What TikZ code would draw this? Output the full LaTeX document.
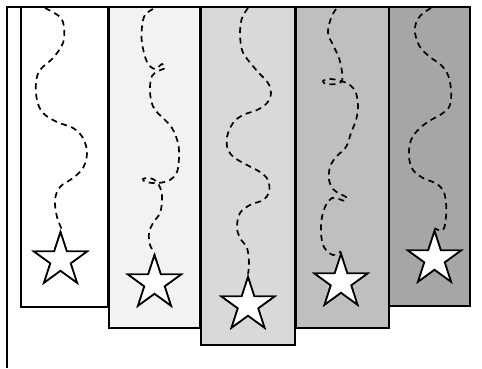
\documentclass[tikz,border=0pt]{standalone}
\usetikzlibrary{shapes.geometric}
\begin{document}
\begin{tikzpicture}[x=1pt,y=-1pt,
  panel/.style={draw=black,line width=2.2pt},
  frame/.style={draw=black,line width=2.2pt},
  trail/.style={draw=black,line width=1.7pt,dash pattern=on 6pt off 4.5pt,line cap=butt},
  starmark/.style={star,star points=5,star point ratio=2.618,minimum size=56pt,inner sep=0pt,draw=black,fill=white,line width=1.7pt}]
\useasboundingbox (0,0) rectangle (482,368);
\definecolor{g1}{HTML}{FFFFFF}
\definecolor{g2}{HTML}{F2F2F2}
\definecolor{g3}{HTML}{D9D9D9}
\definecolor{g4}{HTML}{BFBFBF}
\definecolor{g5}{HTML}{A6A6A6}
% panels
\path[panel,fill=g1] (21,7) rectangle (108,307);
\path[panel,fill=g2] (109,7) rectangle (200,328);
\path[panel,fill=g3] (201,7) rectangle (295,345);
\path[panel,fill=g4] (296,7) rectangle (389,328);
\path[panel,fill=g5] (389,7) rectangle (470,306);
% frame
\coordinate (fl) at (7,368);
\coordinate (fc) at (7,7);
\coordinate (fr) at (470,7);
\draw[frame] (fl) -- (fc) -- (fr);
% stars
\node[starmark] (s1) at (60.5,260) {};
\node[starmark] (s2) at (154.5,283) {};
\node[starmark] (s3) at (248,305) {};
\node[starmark] (s4) at (341,282) {};
\node[starmark] (s5) at (434.5,259) {};
% trail starts
\coordinate (t1) at (45,8);
\coordinate (t2) at (153,9);
\coordinate (t3) at (248,8);
\coordinate (t4) at (336,9);
\coordinate (t5) at (431,8);
% trails
\draw[trail] plot[smooth,tension=0.6] coordinates {(t1) (60,17) (64,28) (63,43) (53,58) (40,70) (36,83) (37,100) (43,113) (57,122) (73,128) (83,138) (87,153) (83,168) (73,178) (60,187) (55,200) (57,217) (62,230) (s1.north)};
\draw[trail] plot[smooth,tension=0.6] coordinates {(t2) (145,15) (142,27) (142,43) (147,62) (155,69) (162,64) (165,68) (158,71) (152,76) (150,87) (151,100) (155,110) (163,118) (172,128) (178,143) (179,157) (177,172) (170,180) (158,183) (146,182) (143,179) (149,178) (156,181) (161,190) (162,200) (160,213) (153,223) (149,233) (150,245) (s2.north)};
\draw[trail] plot[smooth,tension=0.6] coordinates {(t3) (242,18) (240,33) (242,50) (248,60) (258,72) (268,83) (271,93) (267,103) (257,110) (243,115) (233,123) (227,137) (228,150) (235,158) (247,165) (260,172) (268,180) (269,192) (263,200) (250,205) (240,213) (237,227) (240,238) (247,248) (249,263) (s3.north)};
\draw[trail] plot[smooth,tension=0.6] coordinates {(t4) (331,18) (328,33) (333,45) (339,58) (342,72) (342,81) (336,84) (326,84) (323,81) (330,79) (341,81) (350,85) (356,93) (358,107) (356,120) (351,133) (346,147) (336,157) (330,167) (329,180) (333,189) (340,194) (346,197) (345,201) (339,199) (332,198) (326,205) (322,217) (321,233) (324,247) (333,255) (s4.north)};
\draw[trail] plot[smooth,tension=0.6] coordinates {(t5) (421,15) (416,23) (415,33) (420,47) (430,57) (441,65) (448,75) (451,90) (450,105) (443,113) (431,120) (420,128) (411,140) (409,157) (413,170) (423,178) (435,183) (443,190) (446,203) (446,217) (443,230) (s5.north)};
% redraw stars on top of trails
\node[starmark] at (s1) {};
\node[starmark] at (s2) {};
\node[starmark] at (s3) {};
\node[starmark] at (s4) {};
\node[starmark] at (s5) {};
\end{tikzpicture}
\end{document}
